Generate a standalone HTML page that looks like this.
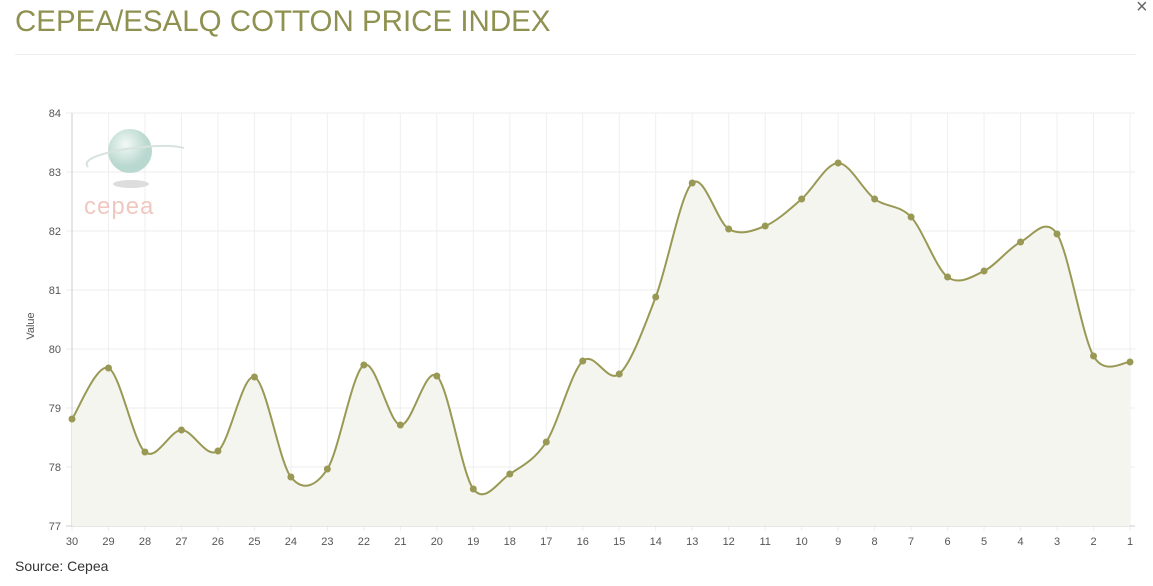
<!DOCTYPE html>
<html><head><meta charset="utf-8"><style>
body{margin:0;width:1153px;height:586px;background:#fff;overflow:hidden;font-family:"Liberation Sans",sans-serif}
#t{position:absolute;left:15px;top:5px;font-size:29.5px;color:#8f9150}
#hr{position:absolute;left:15px;top:54px;width:1121px;height:1px;background:#eee}
#x{position:absolute;left:1136px;top:-4px;font-size:20px;color:#666}
#s{position:absolute;left:15px;top:558px;font-size:14px;color:#333}
svg{position:absolute;left:0;top:0}
</style></head><body>
<div id="t">CEPEA/ESALQ COTTON PRICE INDEX</div><div id="hr"></div><div id="x">×</div>
<svg id="c" width="1153" height="586"></svg>
<div id="s">Source: Cepea</div>
<script>
const ys=[419,368,452,430,451,377,477,469,365,425,376,489,474,442,361,374,297,183,229,226,199,163,199,217,277,271,242,234,356,362];
const x0=72,dx=(1130-72)/29;
let s='';
for(let v=77;v<=84;v++){const y=526-(v-77)*59;s+=`<line x1="66" x2="1135" y1="${y}" y2="${y}" stroke="#ececec"/><text x="61" y="${y+4}" font-size="11" fill="#555" text-anchor="end">${v}</text>`;}
for(let i=0;i<30;i++){const x=x0+i*dx;s+=`<line x1="${x}" x2="${x}" y1="113" y2="531" stroke="#efefef"/><text x="${x}" y="545" font-size="11" fill="#555" text-anchor="middle">${30-i}</text>`;}
s+=`<line x1="72" x2="72" y1="113" y2="526" stroke="#ccc"/><line x1="66" x2="1135" y1="526" y2="526" stroke="#ccc"/>`;
s+=`<text transform="translate(34,326) rotate(-90)" font-size="11" fill="#555" text-anchor="middle">Value</text>`;
s+=`<defs><radialGradient id="g" cx="0.4" cy="0.35"><stop offset="0" stop-color="#f2f9f6"/><stop offset="1" stop-color="#b9d8cf"/></radialGradient></defs>
<ellipse cx="130" cy="151" rx="22" ry="22" fill="url(#g)"/><ellipse cx="131" cy="184" rx="18" ry="4" fill="#ddd"/>
<path d="M88 167 Q80 158 120 150 Q165 143 184 148" stroke="#d8e2de" stroke-width="2" fill="none"/>
<text x="84" y="214" font-size="24" fill="#f0c8c0" letter-spacing="1">cepea</text>`;
const P=ys.map((y,i)=>[x0+i*dx,y]);
let d=`M${P[0][0]},${P[0][1]}`;
for(let i=0;i<P.length-1;i++){const p0=P[Math.max(0,i-1)],p1=P[i],p2=P[i+1],p3=P[Math.min(P.length-1,i+2)];const k=0.16;
d+=` C${p1[0]+(p2[0]-p0[0])*k},${p1[1]+(p2[1]-p0[1])*k} ${p2[0]-(p3[0]-p1[0])*k},${p2[1]-(p3[1]-p1[1])*k} ${p2[0]},${p2[1]}`;}
s+=`<path d="${d} L1130,526 L72,526Z" fill="#f5f5f0"/><path d="${d}" fill="none" stroke="#999955" stroke-width="2"/>`;
P.forEach(p=>s+=`<circle cx="${p[0]}" cy="${p[1]}" r="3.5" fill="#999955"/>`);
document.getElementById('c').innerHTML=s;
</script>
</body></html>
